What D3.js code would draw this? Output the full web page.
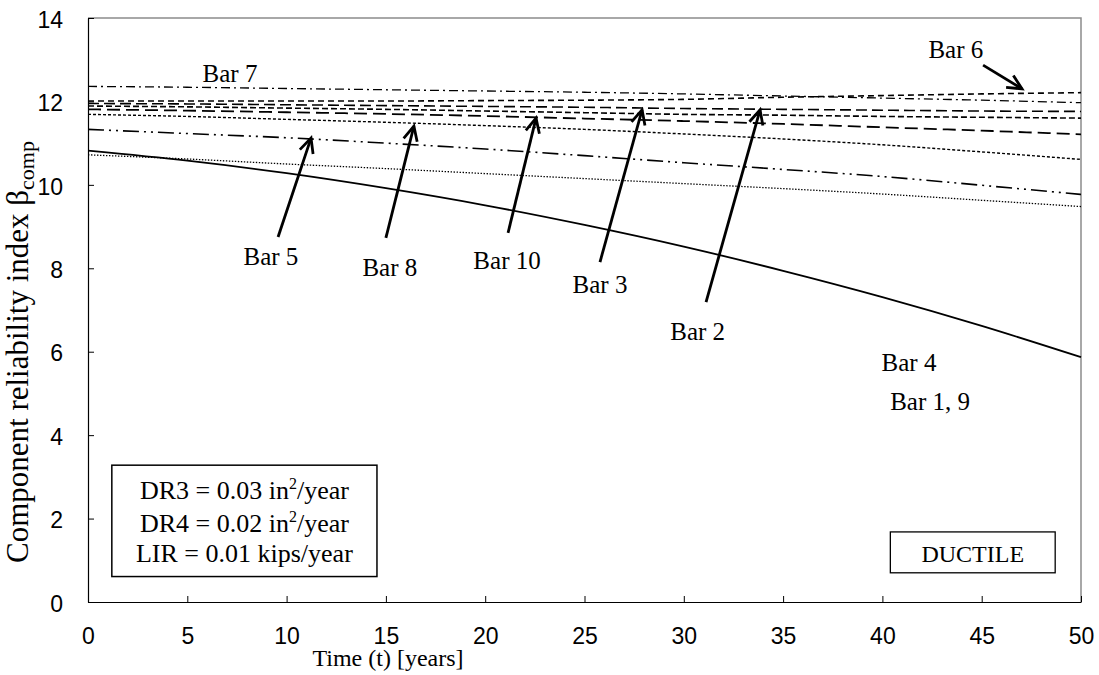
<!DOCTYPE html>
<html>
<head>
<meta charset="utf-8">
<script src="https://cdn.jsdelivr.net/npm/d3@7"></script>
<style>
  html, body { margin: 0; padding: 0; background: #fff; }
  svg { display: block; }
  .serif { font-family: "Liberation Serif", "Times New Roman", serif; }
  .sans { font-family: "Liberation Sans", Arial, sans-serif; }
</style>
</head>
<body>
<svg id="chart" width="1099" height="675"></svg>
<script>
// Time axis (years) shared by all series
const years = [0, 5, 10, 15, 20, 25, 30, 35, 40, 45, 50];

// Component reliability index for each bar (ductile case)
const bar7   = [12.36, 12.34, 12.31, 12.28, 12.25, 12.22, 12.18, 12.13, 12.08, 12.03, 11.97];
const bar6   = [12.01, 12.01, 12.01, 12.01, 12.02, 12.03, 12.05, 12.10, 12.14, 12.18, 12.21];
const bar2   = [11.95, 11.94, 11.92, 11.90, 11.88, 11.86, 11.83, 11.81, 11.79, 11.77, 11.76];
const bar3   = [11.89, 11.87, 11.84, 11.81, 11.77, 11.73, 11.69, 11.67, 11.64, 11.62, 11.60];
const bar10  = [11.81, 11.78, 11.74, 11.70, 11.65, 11.59, 11.53, 11.46, 11.38, 11.30, 11.21];
const bar8   = [11.69, 11.64, 11.57, 11.50, 11.42, 11.33, 11.22, 11.10, 10.96, 10.79, 10.61];
const bar5   = [11.33, 11.23, 11.13, 11.00, 10.86, 10.70, 10.53, 10.37, 10.20, 9.99, 9.77];
const bar1_9 = [10.72, 10.62, 10.50, 10.39, 10.27, 10.15, 10.03, 9.91, 9.78, 9.63, 9.48];
const bar4   = [10.82, 10.58, 10.28, 9.92, 9.51, 9.04, 8.52, 7.94, 7.31, 6.62, 5.87];

// Tick values
const xTicks = [0, 5, 10, 15, 20, 25, 30, 35, 40, 45, 50];
const yTicks = [0, 2, 4, 6, 8, 10, 12, 14];

// Line styles per series
const seriesList = [
  { values: bar7,   dash: "9,4,2,4",            width: 1.3 },
  { values: bar6,   dash: "6,4",                width: 1.6 },
  { values: bar2,   dash: "11,5",               width: 1.6 },
  { values: bar3,   dash: "6,3",                width: 1.6 },
  { values: bar10,  dash: "13,6",               width: 1.8 },
  { values: bar8,   dash: "3,2",                width: 1.4 },
  { values: bar5,   dash: "16,5,2,5,2,5",       width: 1.6 },
  { values: bar1_9, dash: "1.4,1.6",            width: 1.3 },
  { values: bar4,   dash: null,                 width: 1.8 }
];

// Annotation labels (data coordinates: centre x, baseline y)
const labels = [
  { text: "Bar 7",    t: 7.15,  b: 12.47 },
  { text: "Bar 6",    t: 43.7,  b: 13.04 },
  { text: "Bar 5",    t: 9.21,  b: 8.08 },
  { text: "Bar 8",    t: 15.2,  b: 7.82 },
  { text: "Bar 10",   t: 21.1,  b: 7.98 },
  { text: "Bar 3",    t: 25.78, b: 7.41 },
  { text: "Bar 2",    t: 30.7,  b: 6.28 },
  { text: "Bar 4",    t: 41.34, b: 5.54 },
  { text: "Bar 1, 9", t: 42.4,  b: 4.6 }
];

// Arrows pointing from labels to their curves (data coordinates)
const arrows = [
  { t0: 9.57,  b0: 8.75,  t1: 11.23, b1: 11.12 },
  { t0: 15.0,  b0: 8.73,  t1: 16.41, b1: 11.41 },
  { t0: 21.15, b0: 8.85,  t1: 22.56, b1: 11.60 },
  { t0: 25.78, b0: 8.15,  t1: 27.9,  b1: 11.80 },
  { t0: 31.12, b0: 7.19,  t1: 33.84, b1: 11.80 },
  { t0: 45.07, b0: 12.87, t1: 47.03, b1: 12.30 }
];

const svg = d3.select("#chart");
const plot = { left: 88, top: 18, right: 1081, bottom: 602 };

const x = d3.scaleLinear().domain([0, 50]).range([plot.left, plot.right]);
const y = d3.scaleLinear().domain([0, 14]).range([plot.bottom, plot.top]);

// Plot frame: top and right edges in grey
svg.append("path")
  .attr("d", `M${plot.left},${plot.top}H${plot.right}V${plot.bottom}`)
  .attr("fill", "none").attr("stroke", "#8c8c8c").attr("stroke-width", 1.5);

// Series
const line = d3.line().x((d, i) => x(years[i])).y(d => y(d)).curve(d3.curveMonotoneX);
const lineG = svg.append("g");
seriesList.forEach(s => {
  lineG.append("path")
    .datum(s.values)
    .attr("d", line)
    .attr("fill", "none")
    .attr("stroke", "#000")
    .attr("stroke-width", s.width)
    .attr("stroke-dasharray", s.dash);
});

// Axes with inward ticks
const xAxis = d3.axisBottom(x).tickValues(xTicks).tickSizeInner(-6).tickSizeOuter(0).tickPadding(26);
const yAxis = d3.axisLeft(y).tickValues(yTicks).tickSizeInner(-6).tickSizeOuter(0).tickPadding(25);

const gx = svg.append("g").attr("transform", `translate(0,${plot.bottom})`).call(xAxis);
const gy = svg.append("g").attr("transform", `translate(${plot.left},0)`).call(yAxis);
[gx, gy].forEach(g => {
  g.select(".domain").attr("stroke", "#000").attr("stroke-width", 1.2);
  g.selectAll(".tick line").attr("stroke", "#000").attr("stroke-width", 1);
  g.selectAll(".tick text")
    .attr("class", "sans")
    .attr("font-size", 23)
    .attr("fill", "#000");
});
gx.selectAll(".tick text").attr("dy", "0.68em");
gy.selectAll(".tick text").attr("dy", "0.4em");

// Axis titles
svg.append("text")
  .attr("class", "serif")
  .attr("x", 388).attr("y", 666)
  .attr("text-anchor", "middle")
  .attr("font-size", 24)
  .text("Time (t) [years]");

const yTitle = svg.append("text")
  .attr("class", "serif")
  .attr("transform", "translate(28,563) rotate(-90)")
  .attr("text-anchor", "start")
  .attr("font-size", 31);
yTitle.append("tspan").text("Component reliability index \u03B2");
yTitle.append("tspan").attr("font-size", 22).attr("dy", 6).text("comp");

// Curve labels
const labelG = svg.append("g");
labels.forEach(l => {
  labelG.append("text")
    .attr("class", "serif")
    .attr("x", x(l.t)).attr("y", y(l.b))
    .attr("text-anchor", "middle")
    .attr("font-size", 25)
    .text(l.text);
});

// Arrows with open heads
const arrowG = svg.append("g").attr("stroke", "#000").attr("stroke-width", 2.8)
  .attr("fill", "none").attr("stroke-linecap", "butt");
arrows.forEach(a => {
  const x0 = x(a.t0), y0 = y(a.b0), x1 = x(a.t1), y1 = y(a.b1);
  const ang = Math.atan2(y1 - y0, x1 - x0);
  const hl = 16, ha = 0.45;
  const p1 = [x1 - hl * Math.cos(ang - ha), y1 - hl * Math.sin(ang - ha)];
  const p2 = [x1 - hl * Math.cos(ang + ha), y1 - hl * Math.sin(ang + ha)];
  arrowG.append("path").attr("d", `M${x0},${y0}L${x1},${y1}`);
  arrowG.append("path").attr("d", `M${p1[0]},${p1[1]}L${x1},${y1}L${p2[0]},${p2[1]}`)
    .attr("stroke-linejoin", "miter");
});

// Parameter box
const paramBox = { x0: 1.2, y0: 3.28, x1: 14.55, y1: 0.61 };
svg.append("rect")
  .attr("x", x(paramBox.x0)).attr("y", y(paramBox.y0))
  .attr("width", x(paramBox.x1) - x(paramBox.x0))
  .attr("height", y(paramBox.y1) - y(paramBox.y0))
  .attr("fill", "#fff").attr("stroke", "#000").attr("stroke-width", 1.5);

const paramLines = [
  { main: "DR3 = 0.03 in", sup: "2", tail: "/year", b: 2.46 },
  { main: "DR4 = 0.02 in", sup: "2", tail: "/year", b: 1.68 },
  { main: "LIR = 0.01 kips/year", sup: null, tail: null, b: 0.96 }
];
paramLines.forEach(p => {
  const t = svg.append("text")
    .attr("class", "serif")
    .attr("x", x((paramBox.x0 + paramBox.x1) / 2)).attr("y", y(p.b))
    .attr("text-anchor", "middle")
    .attr("font-size", 26);
  t.append("tspan").text(p.main);
  if (p.sup) {
    t.append("tspan").attr("font-size", 16).attr("dy", -10).text(p.sup);
    t.append("tspan").attr("dy", 10).text(p.tail);
  }
});

// Failure mode box
const modeBox = { x0: 40.4, y0: 1.68, x1: 48.7, y1: 0.7 };
svg.append("rect")
  .attr("x", x(modeBox.x0)).attr("y", y(modeBox.y0))
  .attr("width", x(modeBox.x1) - x(modeBox.x0))
  .attr("height", y(modeBox.y1) - y(modeBox.y0))
  .attr("fill", "#fff").attr("stroke", "#000").attr("stroke-width", 1.3);
svg.append("text")
  .attr("class", "serif")
  .attr("x", x((modeBox.x0 + modeBox.x1) / 2)).attr("y", y(0.95))
  .attr("text-anchor", "middle")
  .attr("font-size", 24)
  .text("DUCTILE");
</script>
</body>
</html>
